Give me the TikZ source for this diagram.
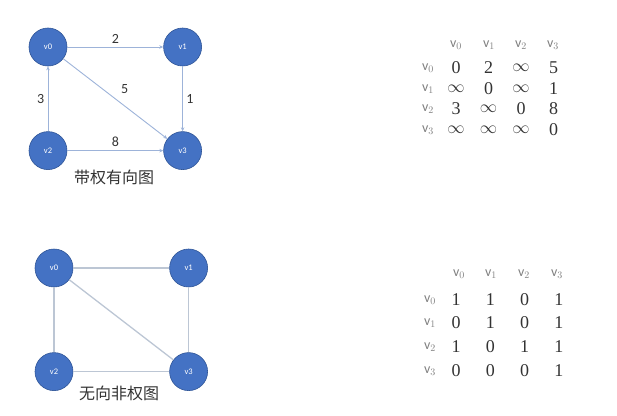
\documentclass[tikz,border=0pt]{standalone}
\usepackage{fontspec}
\newfontfamily\lbl{Carlito}
\newfontfamily\num{Liberation Serif}
\newfontfamily\cjk{Noto Sans CJK SC}
\usetikzlibrary{arrows.meta,positioning}
\definecolor{vblue}{HTML}{4472C4}
\definecolor{vedge}{HTML}{2F5597}
\definecolor{eblue}{HTML}{9DB3D9}
\definecolor{egray}{HTML}{BCC6D4}
\definecolor{hgray}{HTML}{7F7F7F}
\definecolor{tdark}{HTML}{333333}

\begin{document}
\begin{tikzpicture}[x=1pt,y=-1pt,node distance=65pt and 96pt,
  vtx/.style={circle,fill=vblue,draw=vedge,line width=0.6pt,minimum size=38pt,inner sep=0pt,text=white,font=\lbl\fontsize{8.5}{9}\selectfont},
  arc/.style={-{Stealth[length=4pt,width=3.5pt]},draw=eblue,line width=0.9pt},
  link/.style={draw=egray,line width=1.3pt},
  wt/.style={font=\lbl\fontsize{14}{15}\selectfont,text=tdark},
  gtitle/.style={font=\cjk\fontsize{16}{18}\selectfont,text=tdark},
  hd/.style={font=\lbl\fontsize{14}{15}\selectfont,text=hgray,inner sep=0pt},
  val/.style={font=\num\fontsize{18}{19}\selectfont,text=tdark,inner sep=0pt}]
\useasboundingbox (0,0) rectangle (617,415);
% weighted directed graph
\node[vtx] (a0) at (48,47) {v0};
\node[vtx,right=of a0] (a1) {v1};
\node[vtx,below=of a0] (a2) {v2};
\node[vtx,below=of a1] (a3) {v3};
\draw[arc] (a0)--node[wt,above]{2}(a1); \draw[arc] (a1)--node[wt,right]{1}(a3);
\draw[arc] (a0)--node[wt,above right=1pt and 2pt]{5}(a3); \draw[arc] (a2)--node[wt,left]{3}(a0);
\draw[arc] (a2)--node[wt,above]{8}(a3);
\node[gtitle] (acap) at (114,177) {带权有向图};
% its matrix
\foreach \c [count=\j from 0] in {456,489,521,553} \node[hd] (ah\j) at (\c,45) {v$_\j$};
\foreach \r [count=\i from 0] in {68,89,109,130} \node[hd] (ar\i) at (428,\r) {v$_\i$};
\foreach \r/\vals [count=\i from 0] in {68/{0,2,$\infty$,5},89/{$\infty$,0,$\infty$,1},109/{3,$\infty$,0,8},130/{$\infty$,$\infty$,$\infty$,0}}
  \foreach \v [count=\j from 0] in \vals \node[val] (am\i\j) at ({456+32.5*\j},\r) {\v};
% undirected unweighted graph
\node[vtx] (b0) at (54,268) {v0};
\node[vtx,right=of b0] (b1) {v1};
\node[vtx,below=of b0] (b2) {v2};
\node[vtx,below=of b1] (b3) {v3};
\draw[link] (b0)--(b1); \draw[link] (b1)--(b3); \draw[link] (b0)--(b3);
\draw[link] (b0)--(b2); \draw[link] (b2)--(b3);
\node[gtitle] (bcap) at (119,393) {无向非权图};
% its matrix
\foreach \c [count=\j from 0] in {459,491,524,557} \node[hd] (bh\j) at (\c,274) {v$_\j$};
\foreach \r [count=\i from 0] in {300,323,347,371} \node[hd] (br\i) at (430,\r) {v$_\i$};
\foreach \r/\vals [count=\i from 0] in {300/{1,1,0,1},323/{0,1,0,1},347/{1,0,1,1},371/{0,0,0,1}}
  \foreach \v [count=\j from 0] in \vals \node[val] (bm\i\j) at ({456+34.3*\j},\r) {\v};
\end{tikzpicture}
\end{document}
